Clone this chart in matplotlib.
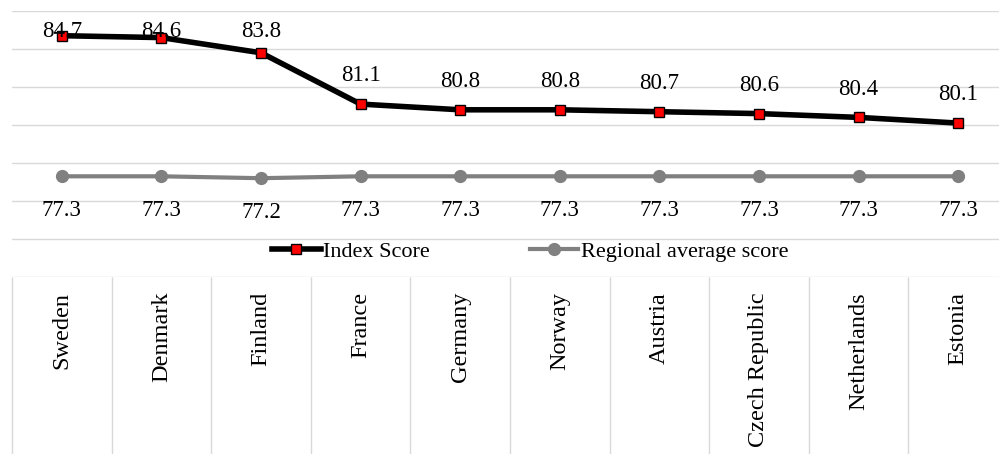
import matplotlib
matplotlib.use("Agg")
import matplotlib.pyplot as plt

countries = ['Sweden', 'Denmark', 'Finland', 'France', 'Germany', 'Norway',
             'Austria', 'Czech Republic', 'Netherlands', 'Estonia']
index_score = [84.7, 84.6, 83.8, 81.1, 80.8, 80.8, 80.7, 80.6, 80.4, 80.1]
regional_avg = [77.3, 77.3, 77.2, 77.3, 77.3, 77.3, 77.3, 77.3, 77.3, 77.3]
y_ticks = [72, 74, 76, 78, 80, 82, 84, 86]

# Times-like serif
plt.rcParams['font.family'] = ['Liberation Serif', 'DejaVu Serif']

fig = plt.figure(figsize=(9.99, 4.54), dpi=100)
ax = fig.add_axes([12 / 999, 1 - 277 / 454, 996 / 999, 266 / 454])

x = list(range(len(countries)))
ax.plot(x, index_score, color='black', lw=4, marker='s', ms=7,
        mfc='#ff0000', mec='black', mew=1, label='Index Score', zorder=4)
ax.plot(x, regional_avg, color='#808080', lw=3, marker='o', ms=8.5,
        mfc='#808080', mec='#808080', label='Regional average score', zorder=3)

ax.set_xlim(-0.5, len(countries) - 0.5)
ax.set_ylim(y_ticks[0], y_ticks[-1])
ax.set_yticks(y_ticks)
ax.yaxis.grid(True, color='#d9d9d9', lw=1)
ax.set_axisbelow(True)
for s in ax.spines.values():
    s.set_visible(False)
ax.tick_params(left=False, labelleft=False, bottom=False, labelbottom=False)

# value labels (top ones kept inside the plot area)
for i, v in enumerate(index_score):
    ax.text(i, min(v + 1.2, 84.63), f'{v:.1f}', ha='center', va='baseline',
            fontsize=16.5, color='black', zorder=5)
for i, v in enumerate(regional_avg):
    ax.text(i, v - 2.1, f'{v:.1f}', ha='center', va='baseline',
            fontsize=16.5, color='black', zorder=5)

# category cells under the plot
bounds = [i - 0.5 for i in range(len(countries) + 1)]
ax.vlines(bounds, -0.7, 0, transform=ax.get_xaxis_transform(),
          colors='#d9d9d9', lw=1, clip_on=False)
for i, name in enumerate(countries):
    ax.text(i, -0.056, name, transform=ax.get_xaxis_transform(),
            rotation=90, ha='center', va='top', fontsize=17.5, color='black')

ax.legend(loc='center', bbox_to_anchor=(0.52, 0.094), ncol=2, frameon=False,
          fontsize=16, handlelength=2.2, handletextpad=0.1, columnspacing=4.5)

fig.savefig('out.png', dpi=100, facecolor='white')
